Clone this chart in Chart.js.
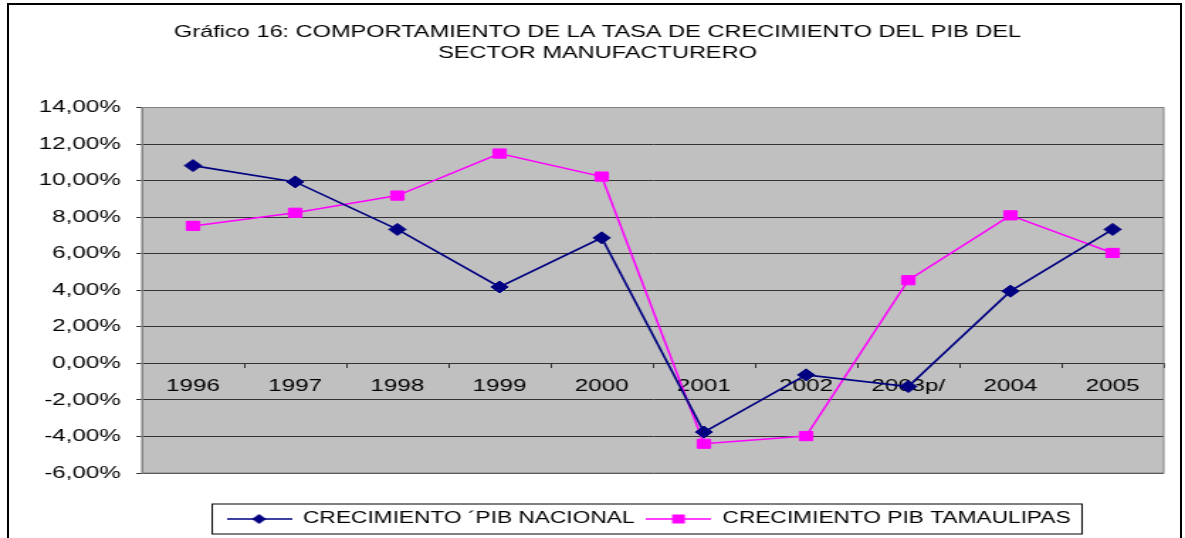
<!DOCTYPE html>
<html lang="es">
<head>
<meta charset="UTF-8">
<title>Gráfico 16 - Tasa de crecimiento del PIB manufacturero</title>
<style>
    * { margin: 0; padding: 0; box-sizing: border-box; }
    body { background: #fff; width: 1185px; height: 538px; overflow: hidden; position: relative; }
    #chart { position: absolute; left: 0; top: 0; transform-origin: 0 0; }
    .frame { position: absolute; left: 7px; top: 3px; width: 1175px; height: 580px; border: 2px solid #000; pointer-events: none; }
</style>
<script src="https://cdn.jsdelivr.net/npm/chart.js@4.4.0/dist/chart.umd.min.js"></script>
</head>
<body>
<canvas id="chart" width="835" height="538"></canvas>
<div class="frame"></div>
<script>
// data (percent)
const years = ['1996', '1997', '1998', '1999', '2000', '2001', '2002', '2003p/', '2004', '2005'];
const nacional = [10.82, 9.93, 7.33, 4.18, 6.87, -3.76, -0.63, -1.27, 3.95, 7.33];
const tamaulipas = [7.52, 8.24, 9.18, 11.48, 10.22, -4.40, -3.98, 4.55, 8.10, 6.04];
const seriesNames = ['CRECIMIENTO \u00B4PIB NACIONAL', 'CRECIMIENTO PIB TAMAULIPAS'];
const titleLines = ['Gráfico 16: COMPORTAMIENTO DE LA TASA DE CRECIMIENTO DEL PIB DEL', 'SECTOR MANUFACTURERO'];

// the original picture is a stretched image, so draw narrow and widen the canvas
const STRETCH = 1185 / 835;
const LEGEND_CENTER = 457;
const TITLE_CENTER = 421;
const canvas = document.getElementById('chart');
canvas.style.transform = 'scaleX(' + STRETCH + ')';

Chart.defaults.font.family = "'Liberation Sans', Arial, sans-serif";
Chart.defaults.color = '#000';

function legendSymbol(color, shape) {
    const c = document.createElement('canvas');
    c.width = 46;
    c.height = 14;
    const g = c.getContext('2d');
    g.strokeStyle = color;
    g.lineWidth = 1.5;
    g.beginPath();
    g.moveTo(0, 7);
    g.lineTo(46, 7);
    g.stroke();
    g.fillStyle = color;
    g.beginPath();
    if (shape === 'diamond') {
        g.moveTo(18, 7); g.lineTo(23, 2); g.lineTo(28, 7); g.lineTo(23, 12);
        g.closePath();
    } else {
        g.rect(18.5, 2.5, 9, 9);
    }
    g.fill();
    return c;
}
const symbols = [legendSymbol('#000080', 'diamond'), legendSymbol('#ff00ff', 'square')];

const chartDecor = {
    id: 'chartDecor',
    beforeDraw(chart) {
        const { ctx, chartArea: a } = chart;
        ctx.save();
        ctx.fillStyle = '#c0c0c0';
        ctx.fillRect(a.left, a.top, a.width, a.height);
        ctx.restore();
        // title and legend are not centred on the canvas in the original
        const lg = chart.legend;
        lg.left = LEGEND_CENTER - lg.width / 2;
        lg.right = lg.left + lg.width;
        const tb = chart.titleBlock;
        tb.left = TITLE_CENTER - tb.width / 2;
        tb.right = tb.left + tb.width;
    },
    beforeDatasetsDraw(chart) {
        const { ctx, chartArea: a } = chart;
        ctx.save();
        ctx.strokeStyle = '#808080';
        ctx.lineWidth = 1;
        ctx.strokeRect(a.left, a.top, a.width, a.height);
        ctx.restore();
    },
    afterDraw(chart) {
        const ctx = chart.ctx;
        const lg = chart.legend;
        const pad = lg.options.labels.padding;
        const rowW = lg.lineWidths[0] - pad;
        const hb = lg.legendHitBoxes[0];
        const cx = (lg.left + lg.right) / 2;
        const cy = hb.top + hb.height / 2;
        ctx.save();
        ctx.strokeStyle = '#000';
        ctx.lineWidth = 1;
        ctx.strokeRect(cx - rowW / 2 - 10, cy - 15, rowW + 18, 30);
        ctx.restore();
    }
};

new Chart(canvas, {
    type: 'line',
    data: {
        labels: years,
        datasets: [
            {
                label: seriesNames[0],
                data: nacional,
                borderColor: '#000080',
                backgroundColor: '#000080',
                borderWidth: 1.6,
                pointStyle: 'rectRot',
                pointRadius: 6,
                pointBorderWidth: 1,
                tension: 0
            },
            {
                label: seriesNames[1],
                data: tamaulipas,
                borderColor: '#ff00ff',
                backgroundColor: '#ff00ff',
                borderWidth: 1.5,
                pointStyle: 'rect',
                pointRadius: 6.5,
                pointBorderWidth: 1,
                tension: 0
            }
        ]
    },
    options: {
        responsive: false,
        animation: false,
        layout: { padding: { left: 0, right: 15, top: 0, bottom: 1 } },
        plugins: {
            title: {
                display: true,
                text: titleLines,
                font: { size: 16.6, weight: 'normal', lineHeight: 1.25 },
                padding: { top: 22, bottom: 44 }
            },
            legend: {
                position: 'bottom',
                // empty title just adds room between the plot and the legend
                title: { display: true, text: '', font: { size: 10, lineHeight: 1.2 }, padding: { top: 18, bottom: 0 } },
                labels: {
                    font: { size: 16 },
                    usePointStyle: true,
                    pointStyleWidth: 46,
                    padding: 8,
                    generateLabels(chart) {
                        const items = Chart.defaults.plugins.legend.labels.generateLabels(chart);
                        items.forEach((it, i) => { it.pointStyle = symbols[i]; });
                        return items;
                    }
                }
            },
            tooltip: { enabled: false }
        },
        scales: {
            x: {
                position: { y: 0 },
                offset: true,
                grid: { offset: true, drawOnChartArea: false, tickLength: 5, color: '#333' },
                border: { display: false },
                ticks: { font: { size: 17 }, padding: 8, autoSkip: false, maxRotation: 0 }
            },
            y: {
                min: -6,
                max: 14,
                ticks: {
                    stepSize: 2,
                    font: { size: 17 },
                    padding: 11,
                    callback: v => v.toFixed(2).replace('.', ',') + '%'
                },
                grid: { color: '#333', tickColor: '#333', tickLength: 4 },
                border: { color: '#808080' },
                afterFit(scale) { scale.width = 100; }
            }
        }
    },
    plugins: [chartDecor]
});
</script>
</body>
</html>
